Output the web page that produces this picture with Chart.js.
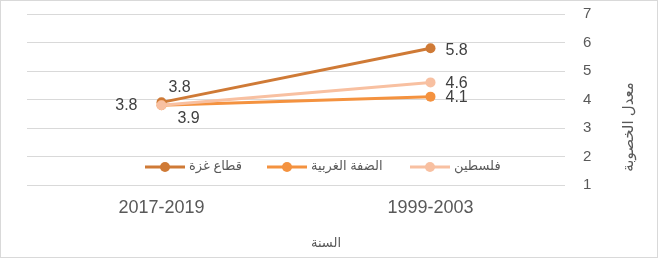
<!DOCTYPE html>
<html>
<head>
<meta charset="utf-8">
<script src="https://cdn.jsdelivr.net/npm/chart.js@4/dist/chart.umd.min.js"></script>
<style>
  html, body { margin: 0; padding: 0; background: #fff; }
  #wrap { width: 660px; height: 261px; }
</style>
</head>
<body>
<div id="wrap"><canvas id="grafica" width="660" height="261"></canvas></div>
<script>
// datos
const periodos = ['1999-2003', '2017-2019'];
const gaza = [5.8, 3.9];
const dhaffa = [4.1, 3.8];
const filastin = [4.6, 3.8];
const nombres = ['قطاع غزة', 'الضفة الغربية', 'فلسطين'];
const yTicks = [1, 2, 3, 4, 5, 6, 7];

const FONT = "'Liberation Sans', 'DejaVu Sans', Arial, sans-serif";
const GRIS = '#595959';

// posiciones de etiquetas por serie (dx, dy, align) para cada punto
const posEtiquetas = [
    [{ dx: 15, dy: 2, align: 'left' }, { dx: 27, dy: 16, align: 'center' }],   // gaza
    [{ dx: 15, dy: 1, align: 'left' }, { dx: 18, dy: -18, align: 'center' }],  // dhaffa
    [{ dx: 15, dy: 1, align: 'left' }, { dx: -24, dy: 0, align: 'right' }]    // filastin
];

const pluginExtras = {
    id: 'extras',
    afterDatasetsDraw(chart) {
        const ctx = chart.ctx;
        ctx.save();
        // etiquetas de datos
        ctx.font = '16px ' + FONT;
        ctx.fillStyle = '#404040';
        ctx.textBaseline = 'middle';
        chart.data.datasets.forEach((ds, i) => {
            const meta = chart.getDatasetMeta(i);
            meta.data.forEach((pt, j) => {
                const p = posEtiquetas[i][j];
                ctx.textAlign = p.align;
                ctx.fillText(ds.data[j].toFixed(1), pt.x + p.dx, pt.y + p.dy);
            });
        });

        // leyenda dentro del area
        const items = [
            { x: 145, i: 0 },
            { x: 267, i: 1 },
            { x: 410, i: 2 }
        ];
        const ly = 167;
        items.forEach(it => {
            const ds = chart.data.datasets[it.i];
            ctx.strokeStyle = ds.borderColor;
            ctx.lineWidth = 3;
            ctx.beginPath();
            ctx.moveTo(it.x, ly);
            ctx.lineTo(it.x + 40, ly);
            ctx.stroke();
            ctx.fillStyle = ds.borderColor;
            ctx.beginPath();
            ctx.arc(it.x + 20, ly, 5, 0, Math.PI * 2);
            ctx.fill();
            ctx.fillStyle = GRIS;
            ctx.font = '13px ' + FONT;
            ctx.textAlign = 'left';
            ctx.fillText(ds.label, it.x + 44, ly - 1);
        });

        // titulos de ejes
        ctx.fillStyle = GRIS;
        ctx.font = '13px ' + FONT;
        ctx.textAlign = 'center';
        ctx.fillText('السنة', 326, 243);
        ctx.font = '15px ' + FONT;
        ctx.translate(629, 127);
        ctx.rotate(-Math.PI / 2);
        ctx.fillText('معدل الخصوبة', 0, 0);
        ctx.restore();

        // borde
        ctx.save();
        ctx.strokeStyle = '#D9D9D9';
        ctx.lineWidth = 1;
        ctx.strokeRect(0.5, 0.5, 657, 257);
        ctx.restore();
    }
};

new Chart(document.getElementById('grafica').getContext('2d'), {
    type: 'line',
    data: {
        labels: periodos,
        datasets: [{
            label: nombres[0],
            data: gaza,
            borderColor: '#CF7A36',
            backgroundColor: '#CF7A36',
            order: 3
        }, {
            label: nombres[1],
            data: dhaffa,
            borderColor: '#F4923F',
            backgroundColor: '#F4923F',
            order: 2
        }, {
            label: nombres[2],
            data: filastin,
            borderColor: '#F8C0A1',
            backgroundColor: '#F8C0A1',
            order: 1
        }]
    },
    options: {
        responsive: false,
        animation: false,
        devicePixelRatio: 1,
        layout: { padding: { left: 27, top: 14, right: 0, bottom: 0 } },
        elements: {
            line: { borderWidth: 3, tension: 0 },
            point: { radius: 5, borderWidth: 0, hoverRadius: 5 }
        },
        plugins: {
            legend: { display: false },
            tooltip: { enabled: false }
        },
        scales: {
            x: {
                reverse: true,
                offset: true,
                grid: { display: false, drawTicks: false },
                border: { display: false },
                ticks: { color: GRIS, font: { size: 18, family: FONT }, padding: 12 },
                afterFit(scale) { scale.height = 76; }
            },
            y: {
                position: 'right',
                min: 1,
                max: 7,
                afterBuildTicks(scale) { scale.ticks = yTicks.map(v => ({ value: v })); },
                grid: { color: '#D9D9D9', lineWidth: 1, drawTicks: false },
                border: { display: false },
                ticks: { color: GRIS, font: { size: 15, family: FONT }, padding: 18 },
                afterFit(scale) {
                    scale.width = 95;
                    scale.paddingTop = 0;
                    scale.paddingBottom = 0;
                }
            }
        }
    },
    plugins: [pluginExtras]
});
</script>
</body>
</html>
